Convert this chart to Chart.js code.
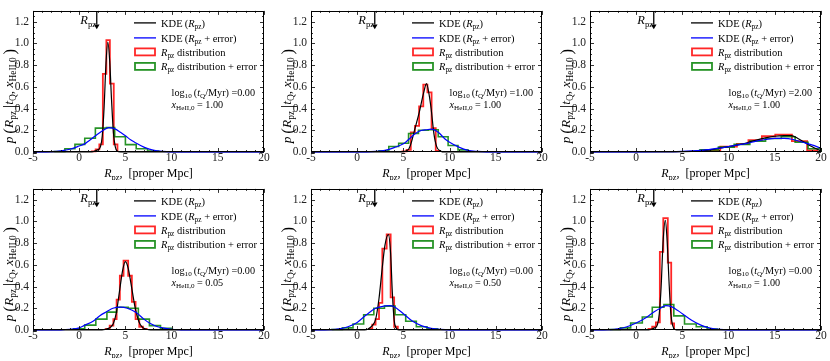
<!DOCTYPE html>
<html><head><meta charset="utf-8">
<script src="https://cdn.jsdelivr.net/npm/chart.js@4/dist/chart.umd.min.js"></script>
<style>
html,body{margin:0;padding:0;background:#fff;}
#wrap{position:relative;width:830px;height:361px;overflow:hidden;background:#fff;}
#wrap canvas{position:absolute;}
</style></head><body><div id="wrap"></div>
<script>
// ---------------- DATA ----------------
const xTickValues = [-5, 0, 5, 10, 15, 20];
const yTickValues = [0, 0.2, 0.4, 0.6, 0.8, 1.0, 1.2];
const logTQ = ['0.00', '1.00', '2.00', '0.00', '0.00', '0.00'];
const xHeII = ['1.00', '1.00', '1.00', '0.05', '0.50', '1.00'];
const rpzArrow = [1.9, 1.9, 1.9, 1.9, 1.9, 1.9];

// Panel 1
const p1_kde_x = [-5, 1.0, 1.6, 2.0, 2.3, 2.5, 2.7, 2.9, 3.1, 3.3, 3.5, 3.7, 3.9, 4.1, 4.5, 20];
const p1_kde_y = [0, 0, 0.005, 0.02, 0.05, 0.15, 0.42, 0.82, 1.01, 0.84, 0.48, 0.18, 0.05, 0.01, 0, 0];
const p1_kdeErr_x = [-5, -3, -2, -1, 0, 0.6, 1, 1.7, 2.6, 3.2, 3.8, 4.5, 5, 5.6, 6, 7, 8, 9, 10, 20];
const p1_kdeErr_y = [0, 0.003, 0.01, 0.025, 0.055, 0.075, 0.1, 0.145, 0.2, 0.225, 0.215, 0.18, 0.15, 0.11, 0.09, 0.045, 0.017, 0.005, 0.001, 0];
const p1_hist_edges = [1.38, 1.78, 2.18, 2.56, 2.94, 3.32, 3.74, 4.14];
const p1_hist_h = [0.005, 0.025, 0.07, 0.72, 1.03, 0.63, 0.07];
const p1_histErr_edges = [-2.7, -1.55, -0.46, 0.6, 1.75, 2.94, 3.84, 5.0, 6.17, 7.4, 8.6];
const p1_histErr_h = [0.005, 0.03, 0.07, 0.127, 0.22, 0.225, 0.14, 0.068, 0.03, 0.008];

// Panel 2
const p2_kde_x = [-5, 4.8, 5.3, 5.6, 5.9, 6.2, 6.7, 7.2, 7.5, 7.8, 8.0, 8.3, 8.6, 9.0, 9.5, 20];
const p2_kde_y = [0, 0, 0.01, 0.03, 0.1, 0.2, 0.36, 0.55, 0.63, 0.52, 0.4, 0.17, 0.05, 0.01, 0, 0];
const p2_kdeErr_x = [-5, 1, 2, 3, 4, 5, 5.5, 6.3, 7, 7.5, 8, 8.8, 9.5, 10, 11, 12, 13, 14, 20];
const p2_kdeErr_y = [0, 0.001, 0.005, 0.015, 0.04, 0.075, 0.11, 0.17, 0.2, 0.205, 0.21, 0.18, 0.12, 0.09, 0.045, 0.015, 0.005, 0.001, 0];
const p2_hist_edges = [4.9, 5.35, 5.8, 6.25, 6.7, 7.15, 7.6, 8.05, 8.5, 8.95];
const p2_hist_h = [0.005, 0.02, 0.18, 0.24, 0.42, 0.62, 0.55, 0.22, 0.01];
const p2_histErr_edges = [2.35, 3.42, 4.49, 5.56, 6.63, 7.7, 8.77, 9.84, 10.91, 11.98];
const p2_histErr_h = [0.01, 0.05, 0.08, 0.17, 0.2, 0.205, 0.14, 0.06, 0.02];

// Panel 3
const p3_kde_x = [-5, 4, 6, 7, 8, 9, 10, 11, 12, 13, 14, 15, 16, 16.8, 17.5, 18.2, 19, 19.6, 20];
const p3_kde_y = [0, 0.001, 0.005, 0.01, 0.02, 0.035, 0.05, 0.065, 0.085, 0.11, 0.13, 0.145, 0.15, 0.15, 0.125, 0.09, 0.05, 0.025, 0.01];
const p3_kdeErr_x = [-5, 0, 3, 5, 7, 8, 9, 10, 11, 12, 13, 14, 15, 16, 17, 18, 19, 20];
const p3_kdeErr_y = [0, 0.001, 0.003, 0.006, 0.015, 0.025, 0.035, 0.05, 0.065, 0.08, 0.1, 0.115, 0.125, 0.125, 0.115, 0.09, 0.065, 0.035];
const p3_hist_edges = [7.1, 9.1, 10.9, 12.15, 13.6, 15.05, 16.85, 18.5, 19.6];
const p3_hist_h = [0.015, 0.05, 0.075, 0.11, 0.145, 0.16, 0.1, 0.015];
const p3_histErr_edges = [6.9, 8.9, 10.6, 12.3, 14.0, 15.7, 17.2, 18.6, 20];
const p3_histErr_h = [0.02, 0.045, 0.07, 0.1, 0.125, 0.14, 0.09, 0.03];

// Panel 4
const p4_kde_x = [-5, 2.0, 2.8, 3.3, 3.7, 4.0, 4.4, 4.7, 5.0, 5.3, 5.6, 6.0, 6.3, 6.6, 7.0, 7.5, 8.0, 20];
const p4_kde_y = [0, 0, 0.005, 0.02, 0.06, 0.15, 0.38, 0.55, 0.63, 0.57, 0.43, 0.23, 0.12, 0.05, 0.015, 0.003, 0, 0];
const p4_kdeErr_x = [-5, -2, -1, 0, 0.6, 1.5, 2.2, 3, 3.65, 4.5, 5.2, 6.2, 7, 7.6, 8.5, 9, 10, 11, 12, 20];
const p4_kdeErr_y = [0, 0.002, 0.007, 0.02, 0.045, 0.08, 0.13, 0.17, 0.2, 0.21, 0.2, 0.16, 0.1, 0.065, 0.03, 0.02, 0.007, 0.002, 0, 0];
const p4_hist_edges = [2.9, 3.3, 3.7, 4.05, 4.4, 4.8, 5.3, 5.7, 6.1, 6.5, 6.9, 7.3];
const p4_hist_h = [0.01, 0.04, 0.1, 0.28, 0.5, 0.64, 0.5, 0.26, 0.1, 0.03, 0.01];
const p4_histErr_edges = [-0.6, 0.6, 1.8, 3.0, 4.05, 5.3, 6.4, 7.6, 8.8, 10.0];
const p4_histErr_h = [0.01, 0.045, 0.1, 0.165, 0.21, 0.2, 0.1, 0.04, 0.015];

// Panel 5
const p5_kde_x = [-5, 0.8, 1.2, 1.63, 2.0, 2.36, 2.72, 3.0, 3.37, 3.62, 3.8, 4.0, 4.2, 4.5, 20];
const p5_kde_y = [0, 0, 0.01, 0.04, 0.1, 0.29, 0.58, 0.78, 0.88, 0.7, 0.35, 0.09, 0.02, 0, 0];
const p5_kdeErr_x = [-5, -3, -2, -1, 0, 1, 2, 3, 3.5, 4, 5, 6, 7, 8, 9, 10, 20];
const p5_kdeErr_y = [0, 0.003, 0.01, 0.03, 0.07, 0.14, 0.2, 0.222, 0.225, 0.215, 0.15, 0.08, 0.038, 0.015, 0.005, 0.001, 0];
const p5_hist_edges = [1.27, 1.63, 1.99, 2.36, 2.72, 3.19, 3.62, 4.0, 4.4];
const p5_hist_h = [0.01, 0.05, 0.1, 0.25, 0.75, 0.88, 0.3, 0.03];
const p5_histErr_edges = [-2.75, -1.6, -0.45, 0.7, 1.8, 2.95, 4.1, 5.25, 6.4, 7.55, 8.7];
const p5_histErr_h = [0.005, 0.02, 0.055, 0.14, 0.2, 0.22, 0.14, 0.08, 0.03, 0.01];

// Panel 6
const p6_kde_x = [-5, 1.0, 1.6, 2.0, 2.3, 2.5, 2.7, 2.9, 3.15, 3.35, 3.55, 3.75, 3.95, 4.2, 4.6, 20];
const p6_kde_y = [0, 0, 0.005, 0.02, 0.05, 0.15, 0.4, 0.8, 1.01, 0.82, 0.45, 0.15, 0.04, 0.005, 0, 0];
const p6_kdeErr_x = [-5, -3, -2, -1, 0, 0.6, 1, 2, 2.6, 3.2, 3.8, 4.5, 5, 6, 7, 8, 9, 10, 20];
const p6_kdeErr_y = [0, 0.003, 0.01, 0.03, 0.065, 0.09, 0.11, 0.17, 0.2, 0.225, 0.215, 0.18, 0.15, 0.09, 0.045, 0.017, 0.005, 0.001, 0];
const p6_hist_edges = [1.33, 1.73, 2.13, 2.56, 2.93, 3.42, 3.79, 4.1];
const p6_hist_h = [0.01, 0.03, 0.07, 0.72, 1.03, 0.62, 0.06];
const p6_histErr_edges = [-2.85, -1.72, -0.6, 0.66, 1.74, 3.0, 4.07, 5.23, 6.5, 7.68, 8.8];
const p6_histErr_h = [0.005, 0.02, 0.064, 0.12, 0.21, 0.235, 0.13, 0.055, 0.03, 0.008];

const panelData = [
  [p1_kde_x, p1_kde_y, p1_kdeErr_x, p1_kdeErr_y, p1_hist_edges, p1_hist_h, p1_histErr_edges, p1_histErr_h],
  [p2_kde_x, p2_kde_y, p2_kdeErr_x, p2_kdeErr_y, p2_hist_edges, p2_hist_h, p2_histErr_edges, p2_histErr_h],
  [p3_kde_x, p3_kde_y, p3_kdeErr_x, p3_kdeErr_y, p3_hist_edges, p3_hist_h, p3_histErr_edges, p3_histErr_h],
  [p4_kde_x, p4_kde_y, p4_kdeErr_x, p4_kdeErr_y, p4_hist_edges, p4_hist_h, p4_histErr_edges, p4_histErr_h],
  [p5_kde_x, p5_kde_y, p5_kdeErr_x, p5_kdeErr_y, p5_hist_edges, p5_hist_h, p5_histErr_edges, p5_histErr_h],
  [p6_kde_x, p6_kde_y, p6_kdeErr_x, p6_kdeErr_y, p6_hist_edges, p6_hist_h, p6_histErr_edges, p6_histErr_h]
];

// ---------------- STYLE / LAYOUT ----------------
const X_MIN = -5, X_MAX = 20, Y_MIN = 0, Y_MAX = 1.3;
const FONT = 'Liberation Serif';
const C_RED = 'rgba(255,0,0,0.85)', C_GREEN = 'rgba(0,128,0,0.85)', C_BLUE = '#0000ff', C_BLACK = '#000000';
const panelPos = [[0,0],[278,0],[557,0],[0,178],[278,178],[557,178]];
const CW = 270, CH = 180;

function segFont(kind, size) {
  const sub = (kind === 'sub' || kind === 'isub');
  const big = (kind === 'big');
  const s = sub ? size * 0.7 : (big ? size * 1.25 : size);
  const it = (kind === 'i' || kind === 'isub') ? 'italic ' : '';
  return it + s.toFixed(2) + 'px "' + FONT + '"';
}
function richWidth(ctx, segs, size) {
  let w = 0;
  for (const [t, k] of segs) { ctx.font = segFont(k, size); w += ctx.measureText(t).width; }
  return w;
}
function drawRich(ctx, segs, x, y, size, align) {
  const w = richWidth(ctx, segs, size);
  let cx = align === 'right' ? x - w : (align === 'center' ? x - w / 2 : x);
  ctx.textAlign = 'left'; ctx.textBaseline = 'alphabetic';
  for (const [t, k] of segs) {
    ctx.font = segFont(k, size);
    let dy = 0;
    if (k === 'sub' || k === 'isub') dy = size * 0.22;
    if (k === 'big') dy = size * 0.12;
    ctx.fillText(t, cx, y + dy);
    cx += ctx.measureText(t).width;
  }
}

const legendItems = [
  {type: 'line', color: C_BLACK, segs: [['KDE\u2009(', 'r'], ['R', 'i'], ['pz', 'sub'], [')', 'r']]},
  {type: 'line', color: C_BLUE, segs: [['KDE\u2009(', 'r'], ['R', 'i'], ['pz', 'sub'], [' + error)', 'r']]},
  {type: 'box', color: C_RED, segs: [['R', 'i'], ['pz', 'sub'], [' distribution', 'r']]},
  {type: 'box', color: C_GREEN, segs: [['R', 'i'], ['pz', 'sub'], [' distribution + error', 'r']]}
];

function histPoints(edges, h) {
  const pts = [{x: edges[0], y: 0}];
  for (let i = 0; i < h.length; i++) pts.push({x: edges[i], y: h[i]});
  pts.push({x: edges[edges.length - 1], y: 0});
  return pts;
}
function curvePoints(xs, ys) { return xs.map((x, i) => ({x: x, y: ys[i]})); }

const decorPlugin = {
  id: 'decor',
  afterDraw(chart) {
    const {ctx, chartArea: a, scales: {x, y}} = chart;
    const pi = chart.options.plugins.decor.panel;
    ctx.save();
    // ticks inward, all sides
    ctx.strokeStyle = '#000'; ctx.lineWidth = 0.8;
    ctx.beginPath();
    for (let v = X_MIN; v <= X_MAX; v += 1) {
      const px = Math.round(x.getPixelForValue(v)) + 0.5;
      const len = (v % 5 === 0) ? 4 : 2;
      ctx.moveTo(px, a.bottom); ctx.lineTo(px, a.bottom - len);
      ctx.moveTo(px, a.top); ctx.lineTo(px, a.top + len);
    }
    for (let i = 0; i <= 26; i++) {
      const py = Math.round(y.getPixelForValue(i * 0.05)) + 0.5;
      const len = (i % 4 === 0) ? 4 : 2;
      ctx.moveTo(a.left, py); ctx.lineTo(a.left + len, py);
      ctx.moveTo(a.right, py); ctx.lineTo(a.right - len, py);
    }
    ctx.stroke();
    // frame
    ctx.lineWidth = 1;
    ctx.strokeRect(Math.round(a.left) + 0.5, Math.round(a.top) + 0.5, Math.round(a.width) - 1, Math.round(a.height) - 1);

    // arrow
    const ax = x.getPixelForValue(rpzArrow[pi]);
    const yTip = y.getPixelForValue(1.13), yHead = y.getPixelForValue(1.175);
    ctx.strokeStyle = '#000'; ctx.lineWidth = 1.3;
    ctx.beginPath(); ctx.moveTo(ax, a.top); ctx.lineTo(ax, yHead); ctx.stroke();
    ctx.fillStyle = '#000';
    ctx.beginPath(); ctx.moveTo(ax - 2.8, yHead); ctx.lineTo(ax + 2.8, yHead); ctx.lineTo(ax, yTip); ctx.closePath(); ctx.fill();
    drawRich(ctx, [['R', 'i'], ['pz', 'sub']], ax - 0.5, a.top + 13, 12.5, 'right');

    // legend
    const lx0 = a.right - 130, tx = a.right - 103;
    const rows = [12, 27, 41, 55.5];
    legendItems.forEach((it, i) => {
      const cy = a.top + rows[i];
      if (it.type === 'line') {
        ctx.strokeStyle = it.color; ctx.lineWidth = 1.3;
        ctx.beginPath(); ctx.moveTo(lx0, cy); ctx.lineTo(lx0 + 22, cy); ctx.stroke();
      } else {
        ctx.strokeStyle = it.color; ctx.lineWidth = 1.8;
        ctx.strokeRect(lx0 + 1, cy - 3.5, 20, 7);
      }
      ctx.fillStyle = '#000';
      drawRich(ctx, it.segs, tx, cy + 3.7, 10.5, 'left');
    });

    // annotation
    const anx = x.getPixelForValue(10);
    drawRich(ctx, [['log', 'r'], ['10', 'sub'], ['\u2009(', 'r'], ['t', 'i'], ['Q', 'sub'], ['/Myr) =' + logTQ[pi], 'r']], anx, y.getPixelForValue(0.55) + 3.6, 10.2, 'left');
    drawRich(ctx, [['x', 'i'], ['HeII,0', 'sub'], [' = ' + xHeII[pi], 'r']], anx, y.getPixelForValue(0.44) + 3.6, 10.2, 'left');

    // axis titles
    drawRich(ctx, [['R', 'i'], ['pz', 'sub'], [',  [proper Mpc]', 'r']], (a.left + a.right) / 2, a.bottom + 25, 12, 'center');
    ctx.save();
    ctx.translate(13, 96);
    ctx.rotate(-Math.PI / 2);
    drawRich(ctx, [['p', 'i'], ['\u2009', 'r'], ['(', 'big'], ['R', 'i'], ['pz', 'sub'], ['\u2009', 'r'], ['|', 'big'], ['t', 'i'], ['Q', 'sub'], [', ', 'r'], ['x', 'i'], ['HeII,0', 'sub'], ['\u2009', 'r'], [')', 'big']], 0, 0, 13.5, 'center');
    ctx.restore();
    ctx.restore();
  }
};

const wrap = document.getElementById('wrap');
panelData.forEach((d, pi) => {
  const cv = document.createElement('canvas');
  cv.width = CW; cv.height = CH;
  cv.style.left = panelPos[pi][0] + 'px'; cv.style.top = panelPos[pi][1] + 'px';
  cv.style.width = CW + 'px'; cv.style.height = CH + 'px';
  wrap.appendChild(cv);
  const [kx, ky, ex, ey, he, hh, ge, gh] = d;
  new Chart(cv.getContext('2d'), {
    type: 'line',
    data: {
      datasets: [
        {label: 'KDE (Rpz + error)', data: curvePoints(ex, ey), borderColor: C_BLUE, borderWidth: 1.2, cubicInterpolationMode: 'monotone', pointRadius: 0, fill: false, order: 0, clip: 4},
        {label: 'KDE (Rpz)', data: curvePoints(kx, ky), borderColor: C_BLACK, borderWidth: 1.2, cubicInterpolationMode: 'monotone', pointRadius: 0, fill: false, order: 1, clip: 4},
        {label: 'Rpz distribution + error', data: histPoints(ge, gh), borderColor: C_GREEN, borderWidth: 1.6, stepped: true, pointRadius: 0, fill: false, order: 2, clip: 4},
        {label: 'Rpz distribution', data: histPoints(he, hh), borderColor: C_RED, borderWidth: 1.8, stepped: true, pointRadius: 0, fill: false, order: 3, clip: 4}
      ]
    },
    options: {
      responsive: false, animation: false, devicePixelRatio: 1,
      layout: {padding: {left: 0, right: 6, top: 4, bottom: 0}},
      plugins: {legend: {display: false}, tooltip: {enabled: false}, decor: {panel: pi}},
      scales: {
        x: {
          type: 'linear', min: X_MIN, max: X_MAX,
          grid: {display: false, drawTicks: false},
          border: {display: false},
          afterBuildTicks: s => { s.ticks = xTickValues.map(v => ({value: v})); },
          afterFit: s => { s.height = 28; },
          ticks: {autoSkip: false, maxRotation: 0, padding: 0, color: '#222', font: {family: FONT, size: 11.5, lineHeight: 1}, callback: v => String(v)}
        },
        y: {
          type: 'linear', min: Y_MIN, max: Y_MAX,
          grid: {display: false, drawTicks: false},
          border: {display: false},
          afterBuildTicks: s => { s.ticks = yTickValues.map(v => ({value: v})); },
          afterFit: s => { s.width = 33; },
          ticks: {autoSkip: false, padding: 4, color: '#222', font: {family: FONT, size: 11.5}, callback: v => Number(v).toFixed(1)}
        }
      }
    },
    plugins: [decorPlugin]
  });
});
</script>
</body></html>
